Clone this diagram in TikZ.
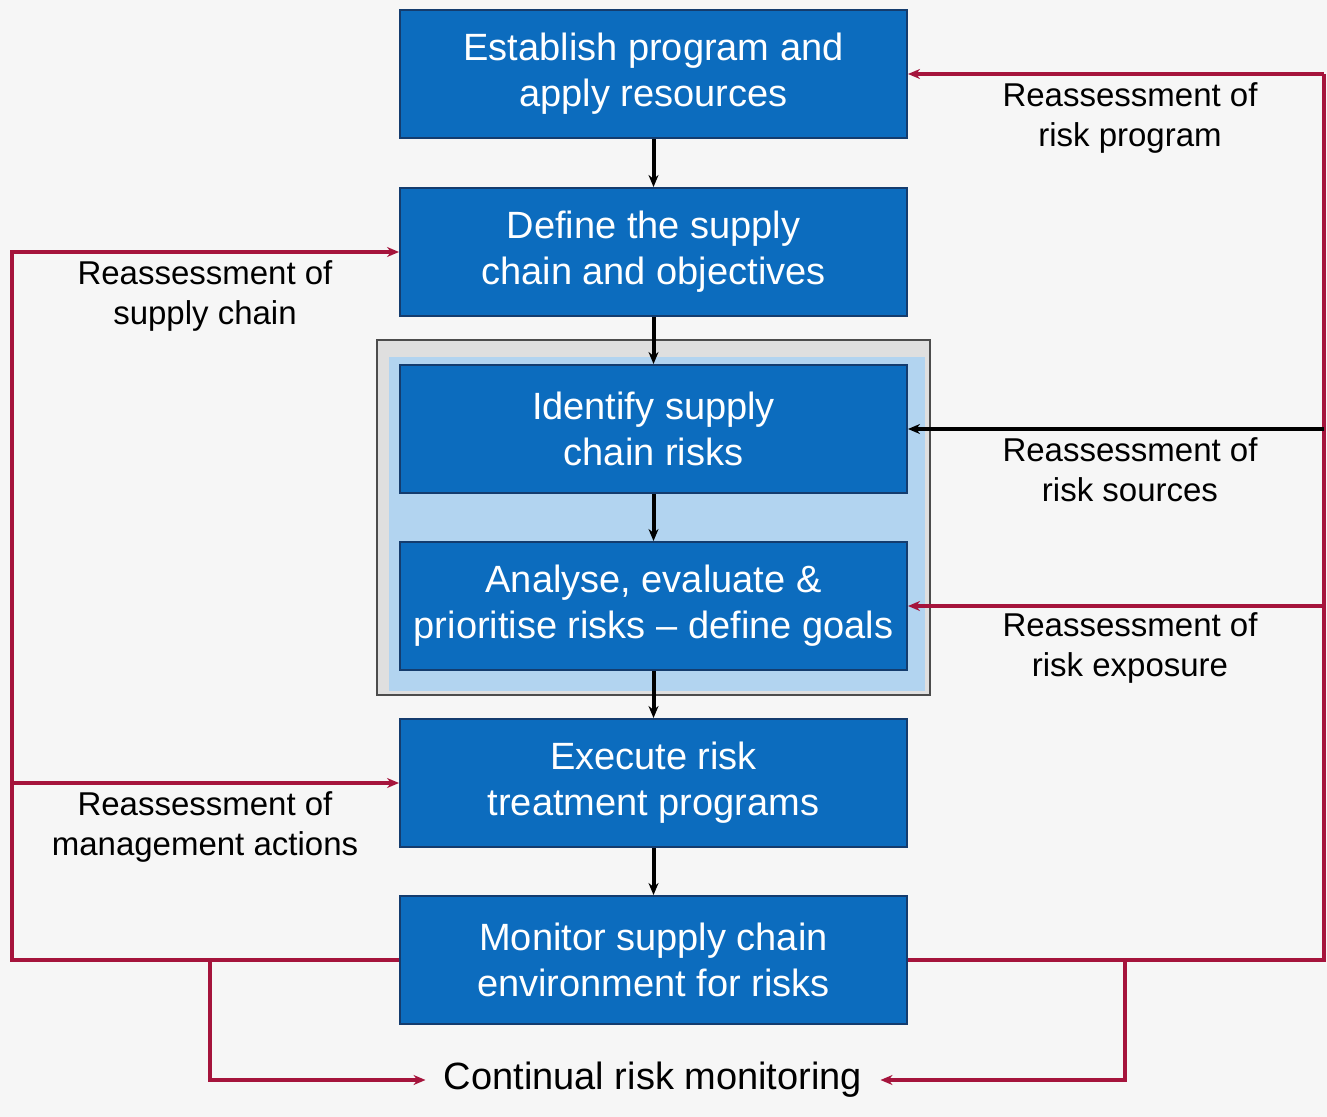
\documentclass[tikz,border=0pt]{standalone}
\usepackage{fontspec}
\setmainfont{Liberation Sans}
\usetikzlibrary{arrows.meta}
\definecolor{stepblue}{RGB}{12,108,190}
\definecolor{stepedge}{RGB}{20,60,110}
\definecolor{loopred}{RGB}{165,20,60}
\definecolor{framefill}{RGB}{178,212,240}
\definecolor{paper}{RGB}{246,246,246}
\begin{document}
\begin{tikzpicture}[x=0.5pt, y=-0.5pt,
  stepbox/.style={draw=stepedge, line width=1pt, fill=stepblue, text=white,
    minimum width=253.5pt, minimum height=64pt, align=center,
    font=\fontsize{19}{23}\selectfont},
  note/.style={align=center, font=\fontsize{16.5}{20}\selectfont},
  fb/.style={loopred, line width=2pt},
  tip/.style={-{Stealth[length=6pt,width=5pt]}}]
\fill[paper] (0,0) rectangle (1327,1117);
\useasboundingbox (0,0) rectangle (1327,1117);
% frame round the two risk steps
\draw[gray!60!black, fill=gray!25, line width=1.2pt] (377,340) rectangle (930,695);
\fill[framefill] (389,357) rectangle (925,691);
\foreach \n/\y/\t in {est/74/{Establish program and\\apply resources},
    def/252/{Define the supply\\chain and objectives},
    idf/429/{Identify supply\\chain risks},
    ana/606/{Analyse, evaluate \&\\prioritise risks -- define goals},
    exe/783/{Execute risk\\treatment programs},
    mon/960/{Monitor supply chain\\environment for risks}}{
  \node[stepbox] (\n) at (653.5,\y) {\t};
}
\foreach \a/\b in {est/def, def/idf, idf/ana, ana/exe, exe/mon}{
  \draw[tip, line width=2pt] (\a) -- (\b);
}
% feedback loops
\coordinate (rtop) at (1324,74);
\coordinate (rbot) at (1324,960);
\coordinate (ltop) at (12,252);
\coordinate (lbot) at (12,960);
\coordinate (bl) at (210,960);
\coordinate (br) at (1125,960);
\node[font=\fontsize{19}{23}\selectfont, inner sep=9pt] (crm) at (653,1080) {Continual risk monitoring};
\draw[fb] (mon.east) -- (rbot) -- (rtop);
\draw[fb, tip] (rtop) -- (est.east);
\draw[black, line width=2pt, tip] (idf.east -| rtop) -- (idf.east);
\draw[fb, tip] (ana.east -| rtop) -- (ana.east);
\draw[fb, tip] (mon.west) -- (lbot) -- (ltop) -- (def.west);
\draw[fb, tip] (exe.west -| lbot) -- (exe.west);
\draw[fb, tip] (bl) -- (bl |- crm) -- (crm.west);
\draw[fb, tip] (br) -- (br |- crm) -- (crm.east);
% labels
\node[note] (lprog) at (1130,118) {Reassessment of\\risk program};
\node[note] (lsup) at (205,296) {Reassessment of\\supply chain};
\node[note] (lsrc) at (1130,470) {Reassessment of\\risk sources};
\node[note] (lexp) at (1130,648) {Reassessment of\\risk exposure};
\node[note] (lmgt) at (205,827) {Reassessment of\\management actions};
\end{tikzpicture}
\end{document}
